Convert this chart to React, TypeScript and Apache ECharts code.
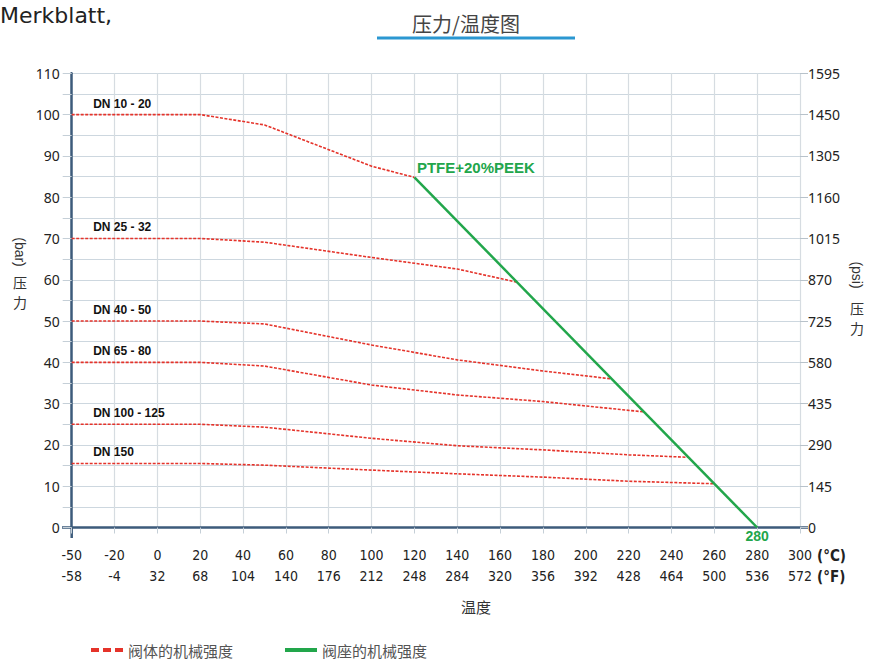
import React, { useEffect, useRef } from "react";
import * as echarts from "echarts";

const TEMP_C = [-50, -20, 0, 20, 40, 60, 80, 100, 120, 140, 160, 180, 200, 220, 240, 260, 280, 300];
const TEMP_F = [-58, -4, 32, 68, 104, 140, 176, 212, 248, 284, 320, 356, 392, 428, 464, 500, 536, 572];

// [temperature °C, pressure bar]
const DN10_20 = [[-50, 100], [20, 100], [50, 97.5], [100, 87.5], [120, 84.8]];
const DN25_32 = [[-50, 70], [20, 70], [50, 69.1], [100, 65.4], [140, 62.6], [168, 59.4]];
const DN40_50 = [[-50, 50], [20, 50], [50, 49.3], [100, 44.2], [140, 40.6], [180, 37.9], [212, 36.0]];
const DN65_80 = [[-50, 40], [20, 40], [50, 39.1], [100, 34.5], [140, 32.1], [180, 30.5], [227, 28.0]];
const DN100_125 = [[-50, 25], [20, 25], [50, 24.3], [100, 21.6], [140, 19.8], [180, 18.8], [220, 17.6], [248, 17.0]];
const DN150 = [[-50, 15.5], [20, 15.5], [50, 15.1], [100, 13.9], [140, 13.0], [180, 12.2], [220, 11.2], [260, 10.6]];
const SEAT_PTFE = [[120, 84.8], [280, 0]];

const BODY_NAME = "阀体的机械强度";
const SEAT_NAME = "阀座的机械强度";
const RED = "#e5332a";
const GREEN = "#22a64b";
const AXIS = "#3d5b7b";
const CJK = '"Noto Sans CJK SC", sans-serif';
const COND = '"DejaVu Sans Condensed", "Liberation Sans Narrow", sans-serif';

// x axis is evenly spaced by tick, with -50..-20 compressed into one step
const xPos = (t: number) => (t < -20 ? (t + 50) / 30 : 1 + (t + 20) / 20);

const hidden = { symbol: "circle", symbolSize: 1, itemStyle: { color: "rgba(0,0,0,0)" } };

function bodySeries(label: string, pts: number[][]) {
  return {
    type: "line",
    name: BODY_NAME,
    symbol: "none",
    showSymbol: true,
    silent: true,
    z: 3,
    lineStyle: { color: RED, width: 1.6, type: [3, 1.5] },
    itemStyle: { color: RED },
    data: pts.map(([t, v], i) =>
      i === 0
        ? {
            value: [xPos(t), v],
            ...hidden,
            label: {
              show: true,
              formatter: label,
              position: "right",
              distance: 0,
              offset: [21, -11],
              fontWeight: "bold",
              fontSize: 12,
              color: "#111",
              fontFamily: '"Liberation Sans", Arial, sans-serif',
            },
          }
        : [xPos(t), v]
    ),
  };
}

export default function App() {
  const ref = useRef<HTMLDivElement>(null);
  useEffect(() => {
    if (!ref.current) return;
    const chart = echarts.init(ref.current, null, { renderer: "svg" });
    const seatData = SEAT_PTFE.map(([t, v], i) => ({
      value: [xPos(t), v],
      ...hidden,
      label:
        i === 0
          ? {
              show: true,
              formatter: "PTFE+20%PEEK",
              position: "right",
              distance: 2,
              offset: [0, -10],
              fontWeight: "bold",
              fontSize: 15,
              color: GREEN,
              fontFamily: '"Liberation Sans", Arial, sans-serif',
            }
          : {
              show: true,
              formatter: String(t),
              position: "bottom",
              distance: 1,
              lineHeight: 14,
              fontWeight: "bold",
              fontSize: 14,
              color: GREEN,
              fontFamily: '"Liberation Sans", Arial, sans-serif',
            },
    }));
    const grid = "#cdd7df";
    chart.setOption({
      animation: false,
      backgroundColor: "#fff",
      textStyle: { fontFamily: '"Noto Sans", sans-serif' },
      grid: { left: 71.7, right: 71, top: 73.3, bottom: 131.5 },
      legend: {
        left: 86,
        top: 636,
        itemGap: 52,
        itemWidth: 32,
        itemHeight: 4,
        textStyle: { fontSize: 15, color: "#555", fontFamily: CJK, lineHeight: 18 },
        data: [
          {
            name: BODY_NAME,
            icon: "path://M0,0h8v4h-8zM12,0h8v4h-8zM24,0h8v4h-8z",
            itemStyle: { color: RED },
          },
          { name: SEAT_NAME, icon: "rect", itemStyle: { color: GREEN } },
        ],
      },
      xAxis: {
        type: "value",
        min: 0,
        max: 17,
        interval: 1,
        axisLine: { show: true, lineStyle: { color: AXIS, width: 2.5 } },
        axisTick: { show: true, length: 6, lineStyle: { color: "#c5cfd7" } },
        splitLine: { show: true, lineStyle: { color: "#d6dce1", width: 1.2 } },
        axisLabel: {
          margin: 17,
          fontSize: 14,
          lineHeight: 21,
          color: "#222",
          fontFamily: COND,
          formatter: (v: number) => `${TEMP_C[v]}\n${TEMP_F[v]}`,
        },
      },
      yAxis: [
        {
          type: "value",
          min: 0,
          max: 110,
          interval: 10,
          axisLine: { show: true, lineStyle: { color: AXIS, width: 2.5 } },
          axisTick: { show: true, length: 9, lineStyle: { color: "#c5cfd7" } },
          minorTick: { show: true, splitNumber: 2, length: 9, lineStyle: { color: "#c5cfd7" } },
          splitLine: { show: true, lineStyle: { color: grid, width: 1.2 } },
          minorSplitLine: { show: true, lineStyle: { color: grid, width: 1.2 } },
          axisLabel: { margin: 12, fontSize: 14, color: "#222" },
        },
        {
          type: "value",
          position: "right",
          min: 0,
          max: 1595,
          interval: 145,
          axisLine: { show: false },
          axisTick: { show: true, length: 8, lineStyle: { color: "#b8c2ca" } },
          splitLine: { show: false },
          axisLabel: { margin: 8, fontSize: 14, color: "#222", formatter: (v: number) => String(v) },
        },
      ],
      graphic: [
        {
          type: "text",
          x: 0,
          y: 15,
          style: { text: "Merkblatt,", fontSize: 22, fill: "#222", textVerticalAlign: "middle", fontFamily: '"DejaVu Sans", sans-serif' },
        },
        {
          type: "text",
          x: 466,
          y: 23,
          style: { text: "压力/温度图", fontSize: 20, fill: "#444", textAlign: "center", textVerticalAlign: "middle", fontFamily: CJK },
        },
        { type: "rect", shape: { x: 377, y: 36.5, width: 198, height: 3 }, style: { fill: "#2b97d1" } },
        { type: "line", shape: { x1: 71.7, y1: 527, x2: 71.7, y2: 538 }, style: { stroke: AXIS, lineWidth: 2.5 } },
        { type: "line", shape: { x1: 62, y1: 527.5, x2: 72, y2: 527.5 }, style: { stroke: AXIS, lineWidth: 2.5 } },
        { type: "line", shape: { x1: 800, y1: 527.5, x2: 808, y2: 527.5 }, style: { stroke: AXIS, lineWidth: 2.5 } },
        {
          type: "text",
          x: 20,
          y: 252,
          rotation: -Math.PI / 2,
          style: { text: "(bar)", fontSize: 14, fill: "#333", textAlign: "center", textVerticalAlign: "middle" },
        },
        { type: "text", x: 20, y: 292, style: { text: "压\n力", fontSize: 14, lineHeight: 20, fill: "#333", textAlign: "center", textVerticalAlign: "middle", fontFamily: CJK } },
        {
          type: "text",
          x: 857,
          y: 275,
          rotation: -Math.PI / 2,
          style: { text: "(psi)", fontSize: 14, fill: "#333", textAlign: "center", textVerticalAlign: "middle" },
        },
        { type: "text", x: 857, y: 318, style: { text: "压\n力", fontSize: 14, lineHeight: 20, fill: "#333", textAlign: "center", textVerticalAlign: "middle", fontFamily: CJK } },
        { type: "text", x: 817, y: 556, style: { text: "(°C)", fontSize: 15, fontWeight: "bold", fill: "#222", textVerticalAlign: "middle", fontFamily: COND } },
        { type: "text", x: 817, y: 577, style: { text: "(°F)", fontSize: 15, fontWeight: "bold", fill: "#222", textVerticalAlign: "middle", fontFamily: COND } },
        { type: "text", x: 476, y: 606, style: { text: "温度", fontSize: 15, fill: "#333", textAlign: "center", textVerticalAlign: "middle", fontFamily: CJK } },
      ],
      series: [
        bodySeries("DN 10 - 20", DN10_20),
        bodySeries("DN 25 - 32", DN25_32),
        bodySeries("DN 40 - 50", DN40_50),
        bodySeries("DN 65 - 80", DN65_80),
        bodySeries("DN 100 - 125", DN100_125),
        bodySeries("DN 150", DN150),
        {
          type: "line",
          name: SEAT_NAME,
          symbol: "none",
          showSymbol: true,
          silent: true,
          z: 4,
          lineStyle: { color: GREEN, width: 2.5 },
          itemStyle: { color: GREEN },
          data: seatData,
        },
      ],
    });
    return () => chart.dispose();
  }, []);
  return (
    <div
      ref={ref}
      style={{ position: "fixed", left: 0, top: 0, width: 871, height: 659, background: "#fff" }}
    />
  );
}
